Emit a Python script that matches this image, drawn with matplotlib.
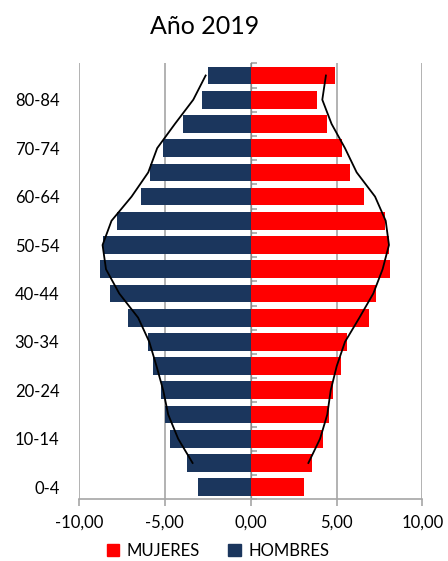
"""Pirámide de población, año 2019"""

import numpy as np
from matplotlib import pyplot as plt
from matplotlib.patches import Patch

grupos = ['0-4', '5-9', '10-14', '15-19', '20-24', '25-29', '30-34',
          '35-39', '40-44', '45-49', '50-54', '55-59', '60-64', '65-69',
          '70-74', '75-79', '80-84', '85+']

hombres = [-3.09, -3.73, -4.70, -4.99, -5.21, -5.71, -5.96, -7.15, -8.18,
           -8.78, -8.58, -7.77, -6.37, -5.85, -5.13, -3.92, -2.85, -2.50]
mujeres = [3.09, 3.59, 4.23, 4.58, 4.77, 5.24, 5.63, 6.89, 7.30,
           8.09, 8.05, 7.82, 6.60, 5.78, 5.30, 4.44, 3.88, 4.91]

# Perfil de comparación (líneas negras)
hombres_ref = [np.nan, -3.38, -4.22, -4.80, -5.09, -5.48, -5.90, -6.55, -7.65,
               -8.42, -8.62, -8.10, -6.93, -5.96, -5.44, -4.41, -3.34, -2.62]
mujeres_ref = [np.nan, 3.36, 4.04, 4.46, 4.66, 5.01, 5.49, 6.33, 7.14,
               7.68, 8.05, 7.86, 7.24, 6.17, 5.49, 4.71, 4.17, 4.38]

x_ticks = [-10, -5, 0, 5, 10]

plt.rcParams['font.family'] = ['Lato', 'DejaVu Sans']

rojo = '#FF0000'
azul = '#1B365D'
gris = '#A6A6A6'

fig = plt.figure(figsize=(4.48, 5.61), dpi=100)
ax = fig.add_axes([0.176, 0.110, 0.767, 0.777])

y = np.arange(len(grupos))

# Barras
ax.barh(y, hombres, height=0.73, color=azul, zorder=2)
ax.barh(y, mujeres, height=0.73, color=rojo, zorder=2)

# Líneas de comparación
ax.plot(hombres_ref, y, color='black', lw=1.3, zorder=3)
ax.plot(mujeres_ref, y, color='black', lw=1.3, zorder=3)

# Ejes
ax.set_xlim(-10, 10)
ax.set_ylim(-0.5, len(grupos) - 0.5)
ax.set_xticks(x_ticks)
ax.set_xticklabels([f'{v:.2f}'.replace('.', ',') for v in x_ticks],
                   fontsize=12)
ax.set_yticks(y[::2])
ax.set_yticklabels(grupos[::2], fontsize=12)
ax.tick_params(axis='y', length=0, pad=14)
ax.tick_params(axis='x', length=5, color=gris, width=1.2, pad=6)
ax.grid(True, axis='x', color=gris, lw=1.2, zorder=0)

for side in ['top', 'right', 'left']:
    ax.spines[side].set_visible(False)
ax.spines['bottom'].set_color(gris)
ax.spines['bottom'].set_linewidth(1.2)

# Eje central con marcas entre categorías
centro = ax.secondary_yaxis(0.5)
centro.set_yticks(np.arange(-0.5, len(grupos), 1))
centro.set_yticklabels([])
centro.tick_params(length=4, color=gris, width=1.2)
centro.spines['left'].set_color(gris)
centro.spines['left'].set_linewidth(1.2)

# Título
fig.text(205 / 448, 1 - 27 / 561, 'Año 2019', fontsize=18,
         ha='center', va='center')

# Leyenda
handles = [Patch(color=rojo, label='MUJERES'),
           Patch(color=azul, label='HOMBRES')]
fig.legend(handles=handles, loc='center', bbox_to_anchor=(0.487, 1 - 551 / 561),
           ncol=2, frameon=False, fontsize=12, handlelength=0.75,
           handleheight=0.75, handletextpad=0.45, columnspacing=1.7,
           borderpad=0)

plt.savefig('out.png', dpi=100)
